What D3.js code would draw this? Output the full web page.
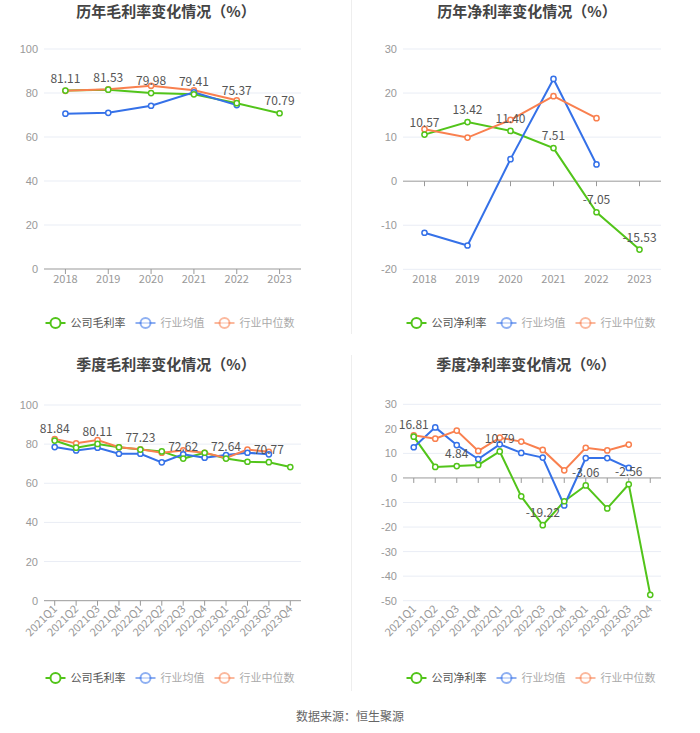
<!DOCTYPE html>
<html>
<head>
<meta charset="utf-8">
<script src="https://cdn.jsdelivr.net/npm/d3@7"></script>
<style>
  body { margin: 0; background: #fff; }
  svg { font-family: "Noto Sans CJK SC", "Noto Sans", sans-serif; }
</style>
</head>
<body>
<script>
// 年度
const years = ["2018", "2019", "2020", "2021", "2022", "2023"]
const yearGross = [81.11, 81.53, 79.98, 79.41, 75.37, 70.79]
const yearGrossAvg = [70.6, 71.0, 74.2, 80.3, 74.5]
const yearGrossMid = [81.0, 81.7, 83.3, 81.2, 76.7]
const yearNet = [10.57, 13.42, 11.40, 7.51, -7.05, -15.53]
const yearNetAvg = [-11.7, -14.6, 5.0, 23.2, 3.8]
const yearNetMid = [11.8, 9.9, 13.9, 19.3, 14.3]

// 季度
const quarters = ["2021Q1", "2021Q2", "2021Q3", "2021Q4", "2022Q1", "2022Q2",
  "2022Q3", "2022Q4", "2023Q1", "2023Q2", "2023Q3", "2023Q4"]
const qGross = [81.84, 78.2, 80.11, 78.4, 77.23, 76.3, 72.62, 75.6, 72.64, 71.0, 70.77, 68.3]
const qGrossAvg = [78.5, 76.8, 78.2, 75.1, 75.1, 70.7, 74.8, 73.1, 74.4, 75.6, 74.8]
const qGrossMid = [82.6, 80.4, 82.1, 78.4, 77.4, 75.6, 76.8, 75.6, 72.9, 77.2, 76.1]
const qNet = [16.81, 4.5, 4.84, 5.3, 10.79, -7.5, -19.22, -9.5, -3.06, -12.4, -2.56, -47.6]
const qNetAvg = [12.5, 20.6, 13.4, 7.7, 13.7, 10.2, 8.3, -11.2, 8.1, 8.1, 4.1]
const qNetMid = [17.4, 16.0, 19.3, 11.0, 16.4, 14.8, 11.4, 3.1, 12.3, 11.2, 13.6]

const green = "#52c41a"
const blue = "#3571e8"
const orange = "#f9804f"

const svg = d3.select("body").append("svg")
  .attr("width", 700)
  .attr("height", 733)

// 分隔线
svg.append("line").attr("x1", 351.5).attr("x2", 351.5).attr("y1", 0).attr("y2", 334)
  .attr("stroke", "#eeeeee")
svg.append("line").attr("x1", 351.5).attr("x2", 351.5).attr("y1", 355).attr("y2", 691)
  .attr("stroke", "#eeeeee")

function drawChart(cfg) {
  const g = svg.append("g")

  g.append("text")
    .attr("x", cfg.titleX)
    .attr("y", cfg.titleY)
    .attr("text-anchor", "middle")
    .attr("font-size", 15)
    .attr("font-weight", "bold")
    .attr("fill", "#444")
    .text(cfg.title)

  const x = d3.scaleBand().domain(cfg.cats).range([cfg.left, cfg.right])
  const y = d3.scaleLinear().domain(cfg.domain).range([cfg.bottom, cfg.top])
  const cx = (d) => x(d) + x.bandwidth() / 2

  // 网格
  const ticks = d3.range(cfg.domain[0], cfg.domain[1] + 1, cfg.step)
  g.selectAll(".grid")
    .data(ticks.filter((t) => t !== 0))
    .enter()
    .append("line")
    .attr("x1", cfg.left)
    .attr("x2", cfg.right)
    .attr("y1", (d) => y(d))
    .attr("y2", (d) => y(d))
    .attr("stroke", "#e9edf5")

  // y轴
  const yAxis = d3.axisLeft(y).tickValues(ticks).tickSize(0).tickPadding(6)
    .tickFormat((d) => String(d))
  g.append("g")
    .attr("transform", "translate(" + cfg.left + ",0)")
    .call(yAxis)
    .call((a) => a.select(".domain").remove())
    .selectAll("text")
    .attr("fill", "#999")
    .attr("font-size", 11)

  // x轴线在0处
  const zeroY = y(0)
  g.append("line")
    .attr("x1", cfg.left)
    .attr("x2", cfg.right)
    .attr("y1", zeroY)
    .attr("y2", zeroY)
    .attr("stroke", "#999")
  g.selectAll(".tick-x")
    .data(cfg.cats)
    .enter()
    .append("line")
    .attr("x1", (d) => cx(d))
    .attr("x2", (d) => cx(d))
    .attr("y1", zeroY)
    .attr("y2", zeroY + 5)
    .attr("stroke", "#999")

  // x标签
  const labels = g.selectAll(".xlab")
    .data(cfg.cats)
    .enter()
    .append("text")
    .attr("fill", "#999")
    .attr("font-size", 11)
    .text((d) => d)
  if (cfg.rotate) {
    labels
      .attr("text-anchor", "end")
      .attr("transform", (d) => "translate(" + (cx(d) + 3) + "," + (cfg.bottom + 9) + ") rotate(-45)")
  } else {
    labels
      .attr("text-anchor", "middle")
      .attr("x", (d) => cx(d))
      .attr("y", cfg.bottom + 14)
  }

  const line = d3.line()
    .x((d, i) => cx(cfg.cats[i]))
    .y((d) => y(d))

  cfg.series.forEach((s) => {
    g.append("path")
      .datum(s.values)
      .attr("d", line)
      .attr("fill", "none")
      .attr("stroke", s.color)
      .attr("stroke-width", 2)
  })

  cfg.series.slice().reverse().forEach((s) => {
    g.selectAll(null)
      .data(s.values)
      .enter()
      .append("circle")
      .attr("cx", (d, i) => cx(cfg.cats[i]))
      .attr("cy", (d) => y(d))
      .attr("r", 2.6)
      .attr("fill", "#fff")
      .attr("stroke", s.color)
      .attr("stroke-width", 1.5)
  })

  // 数据标签
  const main = cfg.series[0]
  g.selectAll(".vlab")
    .data(main.values)
    .enter()
    .filter((d, i) => i % cfg.labelEvery === 0)
    .append("text")
    .attr("x", (d, i) => cx(cfg.cats[i * cfg.labelEvery]))
    .attr("y", (d) => y(d) - 8)
    .attr("text-anchor", "middle")
    .attr("font-size", 12)
    .attr("fill", "#555")
    .text((d) => d.toFixed(2))

  // 图例
  const lg = g.append("g")
  let lx = 0
  cfg.series.forEach((s, i) => {
    const item = lg.append("g").attr("transform", "translate(" + lx + ",0)")
    const op = i === 0 ? 1 : 0.55
    item.append("line")
      .attr("x1", 0).attr("x2", 20).attr("y1", 0).attr("y2", 0)
      .attr("stroke", s.color).attr("stroke-width", 2).attr("opacity", op)
    item.append("circle")
      .attr("cx", 10).attr("cy", 0).attr("r", 5)
      .attr("fill", "#fff").attr("stroke", s.color).attr("stroke-width", 2).attr("opacity", op)
    const t = item.append("text")
      .attr("x", 25).attr("y", 4)
      .attr("font-size", 11)
      .attr("fill", i === 0 ? "#555" : "#aaa")
      .text(s.name)
    lx += 25 + t.node().getComputedTextLength() + 10
  })
  lg.attr("transform", "translate(" + (cfg.legendX - (lx - 10) / 2) + "," + cfg.legendY + ")")
}

drawChart({
  title: "历年毛利率变化情况（%）", titleX: 166, titleY: 17,
  cats: years, domain: [0, 100], step: 20,
  left: 44, right: 301, top: 49, bottom: 269,
  labelEvery: 1, legendX: 170, legendY: 323,
  series: [
    { name: "公司毛利率", values: yearGross, color: green },
    { name: "行业均值", values: yearGrossAvg, color: blue },
    { name: "行业中位数", values: yearGrossMid, color: orange }
  ]
})

drawChart({
  title: "历年净利率变化情况（%）", titleX: 527, titleY: 17,
  cats: years, domain: [-20, 30], step: 10,
  left: 403, right: 661, top: 49, bottom: 269.3,
  labelEvery: 1, legendX: 531, legendY: 323,
  series: [
    { name: "公司净利率", values: yearNet, color: green },
    { name: "行业均值", values: yearNetAvg, color: blue },
    { name: "行业中位数", values: yearNetMid, color: orange }
  ]
})

drawChart({
  title: "季度毛利率变化情况（%）", titleX: 166, titleY: 370,
  cats: quarters, domain: [0, 100], step: 20, rotate: true,
  left: 44, right: 301, top: 405, bottom: 600.7,
  labelEvery: 2, legendX: 170, legendY: 678,
  series: [
    { name: "公司毛利率", values: qGross, color: green },
    { name: "行业均值", values: qGrossAvg, color: blue },
    { name: "行业中位数", values: qGrossMid, color: orange }
  ]
})

drawChart({
  title: "季度净利率变化情况（%）", titleX: 526, titleY: 370,
  cats: quarters, domain: [-50, 30], step: 10, rotate: true,
  left: 403, right: 661, top: 404.3, bottom: 600.7,
  labelEvery: 2, legendX: 531, legendY: 678,
  series: [
    { name: "公司净利率", values: qNet, color: green },
    { name: "行业均值", values: qNetAvg, color: blue },
    { name: "行业中位数", values: qNetMid, color: orange }
  ]
})

svg.append("text")
  .attr("x", 350)
  .attr("y", 721)
  .attr("text-anchor", "middle")
  .attr("font-size", 12)
  .attr("fill", "#666")
  .text("数据来源：恒生聚源")
</script>
</body>
</html>
